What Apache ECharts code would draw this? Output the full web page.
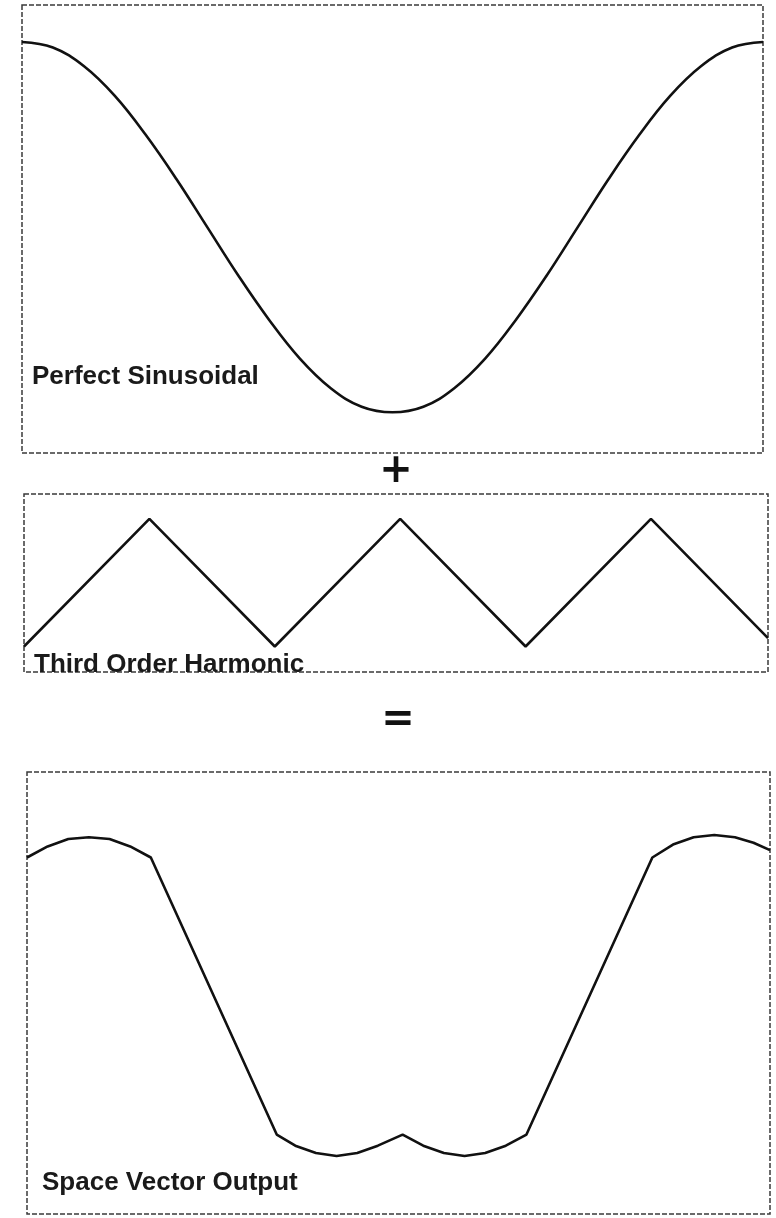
<!DOCTYPE html>
<html>
<head>
<meta charset="utf-8">
<script src="https://cdn.jsdelivr.net/npm/echarts@6/dist/echarts.min.js"></script>
<style>
html,body{margin:0;padding:0;background:#fff;}
#chart{width:776px;height:1218px;}
</style>
</head>
<body>
<div id="chart"></div>
<script>
// ---- Data (angle in degrees, values in units of sine amplitude) ----
const labels = ['Perfect Sinusoidal', 'Third Order Harmonic', 'Space Vector Output'];
const operators = ['+', '='];

const sineDeg = [0, 15, 30, 45, 60, 75, 90, 105, 120, 135, 150, 165, 180, 195, 210, 225, 240, 255, 270, 285, 300, 315, 330, 345, 360];
const sineVal = [1.0, 0.97, 0.87, 0.71, 0.5, 0.26, 0.0, -0.26, -0.5, -0.71, -0.87, -0.97, -1.0, -0.97, -0.87, -0.71, -0.5, -0.26, 0.0, 0.26, 0.5, 0.71, 0.87, 0.97, 1.0];

const harmDeg = [0, 60, 120, 180, 240, 300, 356];
const harmVal = [-1.0, 1.0, -1.0, 1.0, -1.0, 1.0, -0.87];

const svDeg = [0, 10, 20, 30, 40, 50, 60, 121, 130, 140, 150, 160, 170, 182, 192, 202, 212, 222, 232, 242, 303, 313, 323, 333, 343, 352, 360];
const svVal = [0.75, 0.81, 0.85, 0.86, 0.85, 0.81, 0.75, -0.75, -0.81, -0.85, -0.866, -0.85, -0.81, -0.75, -0.81, -0.85, -0.866, -0.85, -0.81, -0.75, 0.75, 0.82, 0.86, 0.872, 0.86, 0.83, 0.79];

const pairs = (xs, ys) => xs.map((x, i) => [x, ys[i]]);

const chart = echarts.init(document.getElementById('chart'), null, {renderer: 'canvas'});

const gridStyle = {show: true, borderColor: '#3a3a3a', borderWidth: 1.5, borderType: [5, 2], backgroundColor: 'transparent', containLabel: false};
const hiddenAxis = {show: false, splitLine: {show: false}};
const lineStyle = {color: '#111', width: 2.6};
const textFont = {fontFamily: 'Liberation Sans', fontWeight: 'bold', fontSize: 26, fill: '#1a1a1a'};

chart.setOption({
  animation: false,
  backgroundColor: '#fff',
  grid: [
    Object.assign({left: 22, top: 5, width: 741, height: 448}, gridStyle),
    Object.assign({left: 24, top: 494, width: 744, height: 178}, gridStyle),
    Object.assign({left: 27, top: 772, width: 743, height: 442}, gridStyle)
  ],
  xAxis: [
    Object.assign({type: 'value', gridIndex: 0, min: 0, max: 360}, hiddenAxis),
    Object.assign({type: 'value', gridIndex: 1, min: 0, max: 356}, hiddenAxis),
    Object.assign({type: 'value', gridIndex: 2, min: 0, max: 360}, hiddenAxis)
  ],
  yAxis: [
    Object.assign({type: 'value', gridIndex: 0, min: -1.22, max: 1.2}, hiddenAxis),
    Object.assign({type: 'value', gridIndex: 1, min: -1.4, max: 1.39}, hiddenAxis),
    Object.assign({type: 'value', gridIndex: 2, min: -1.18, max: 1.213}, hiddenAxis)
  ],
  series: [
    {type: 'line', xAxisIndex: 0, yAxisIndex: 0, data: pairs(sineDeg, sineVal), smooth: 0.4, showSymbol: false, lineStyle: lineStyle},
    {type: 'line', xAxisIndex: 1, yAxisIndex: 1, data: pairs(harmDeg, harmVal), smooth: false, showSymbol: false, lineStyle: lineStyle},
    {type: 'line', xAxisIndex: 2, yAxisIndex: 2, data: pairs(svDeg, svVal), smooth: false, showSymbol: false, lineStyle: lineStyle}
  ],
  graphic: [
    {type: 'text', left: 32, top: 364, z: 10, style: Object.assign({text: labels[0]}, textFont)},
    {type: 'text', left: 34, top: 652, z: 10, style: Object.assign({text: labels[1]}, textFont)},
    {type: 'text', left: 42, top: 1170, z: 10, style: Object.assign({text: labels[2]}, textFont)},
    {type: 'text', x: 396, y: 472, z: 10, style: {text: operators[0], fontFamily: 'DejaVu Sans', fontWeight: 'bold', fontSize: 40, fill: '#111', align: 'center', verticalAlign: 'middle'}},
    {type: 'text', x: 398, y: 721, z: 10, style: {text: operators[1], fontFamily: 'DejaVu Sans', fontWeight: 'bold', fontSize: 40, fill: '#111', align: 'center', verticalAlign: 'middle'}}
  ]
});
</script>
</body>
</html>
